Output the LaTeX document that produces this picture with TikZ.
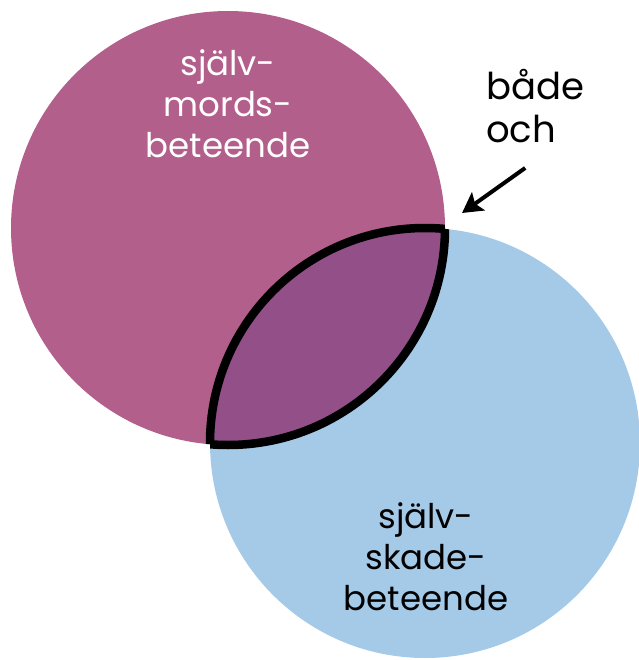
\documentclass[tikz,border=0pt]{standalone}
\usepackage{fontspec}
\setmainfont{Poppins}
\usetikzlibrary{arrows.meta, positioning}
\definecolor{suicidepurple}{RGB}{179, 95, 140}
\definecolor{overlappurple}{RGB}{147, 79, 135}
\definecolor{harmblue}{RGB}{164, 202, 232}
\tikzset{
  venntext/.style={font=\fontsize{34}{41}\selectfont, align=center, inner sep=0pt},
  lensline/.style={draw=black, line width=8.5pt},
  pointer/.style={-{Stealth[length=20pt, width=22pt, inset=4pt]}, line width=4pt, draw=black},
}

\begin{document}
\begin{tikzpicture}[x=1pt, y=-1pt]
        \useasboundingbox (0,0) rectangle (638,660);
        \coordinate (suicide) at (228,228);
        \coordinate (harm) at (425,443);
        \fill[suicidepurple] (suicide) circle (217pt);
        \fill[harmblue] (harm) circle (215pt);
        % overlap of the two circles
        \begin{scope}
            \clip (suicide) circle (217pt);
            \fill[overlappurple] (harm) circle (215pt);
            \draw[lensline] (harm) circle (215pt);
        \end{scope}
        \begin{scope}
            \clip (harm) circle (215pt);
            \draw[lensline] (suicide) circle (217pt);
        \end{scope}
        \node[venntext, text=white] (suicidelabel) at (228,104) {själv-\\mords-\\beteende};
        \node[venntext, text=black] (harmlabel) at (426,557) {själv-\\skade-\\beteende};
        \node[venntext, font=\fontsize{37}{43}\selectfont, align=left, anchor=north west] (bothlabel) at (486,69) {både\\och};
        \coordinate (lenstop) at (462,213);
        \draw[pointer] ([xshift=-10pt, yshift=-25pt]bothlabel.south) -- (lenstop);
\end{tikzpicture}
\end{document}
